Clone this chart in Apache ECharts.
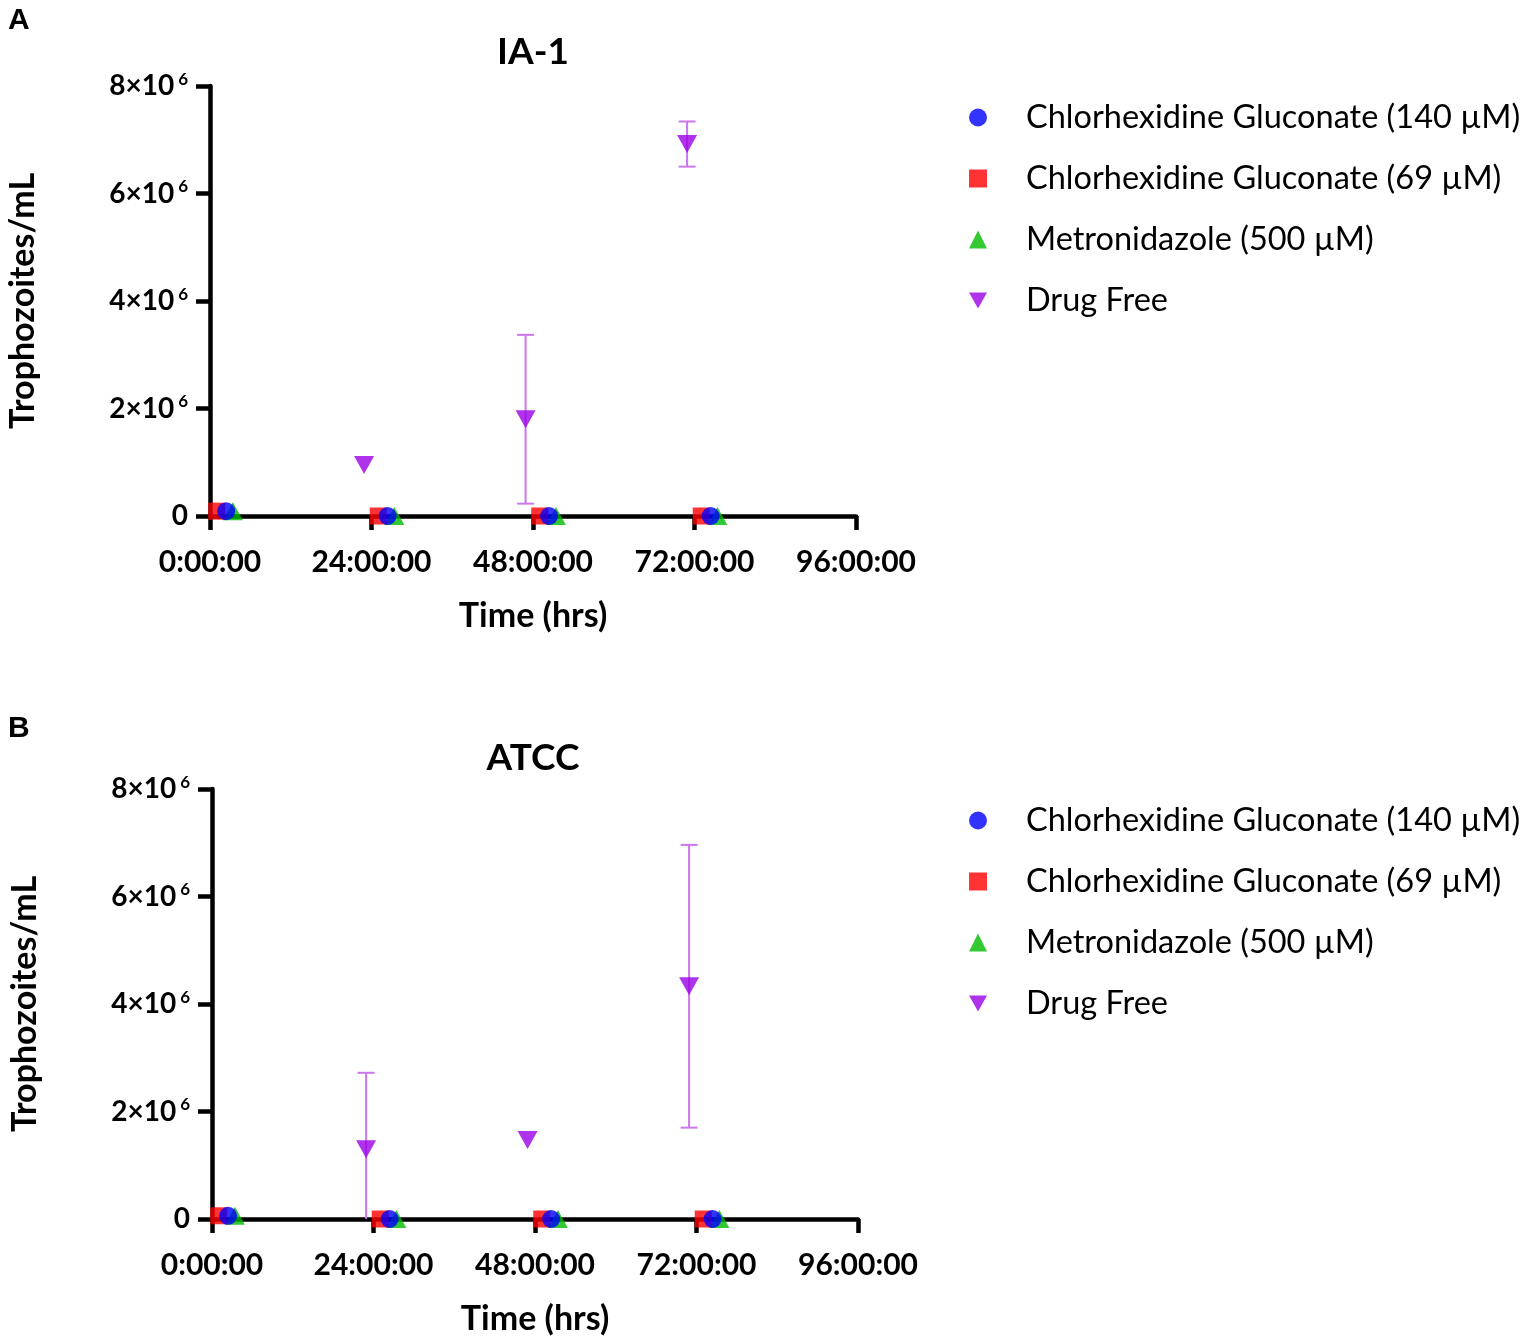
<!DOCTYPE html>
<html>
<head>
<meta charset="utf-8">
<title>Trophozoites over time</title>
<script src="https://cdn.jsdelivr.net/npm/echarts@6/dist/echarts.min.js"></script>
<style>
	html, body { margin: 0; padding: 0; background: #fff; }
	#chart { width: 1536px; height: 1343px; }
</style>
</head>
<body>
<div id="chart"></div>
<script>
// time points (hours) and x tick labels
const timePoints = [0, 24, 48, 72];
const timeTickLabels = ['0:00:00', '24:00:00', '48:00:00', '72:00:00', '96:00:00'];
const seriesNames = ['Chlorhexidine Gluconate (140 µM)', 'Chlorhexidine Gluconate (69 µM)', 'Metronidazole (500 µM)', 'Drug Free'];
const panelTitles = ['IA-1', 'ATCC'];

// panel A: IA-1 (trophozoites/mL)
const ia1Chx140 = [9e4, 0, 0, 0];
const ia1Chx69 = [9e4, 0, 0, 0];
const ia1Metro = [9e4, 0, 0, 0];
const ia1DrugFree = [null, 0.95e6, 1.8e6, 6.92e6];
const ia1DrugFreeSd = [0, 0, 1.57e6, 0.42e6];

// panel B: ATCC (trophozoites/mL)
const atccChx140 = [6e4, 0, 0, 0];
const atccChx69 = [6e4, 0, 0, 0];
const atccMetro = [6e4, 0, 0, 0];
const atccDrugFree = [null, 1.3e6, 1.47e6, 4.33e6];
const atccDrugFreeSd = [0, 1.42e6, 0, 2.63e6];

// small horizontal nudge (hours) so overlapping symbols stay visible
const nudge = { chx140: 2.4, chx69: 1.0, metro: 3.4, drugFree: -1.1 };

const FONT = 'Lato';
const colors = { chx140: '#0000ff', chx69: '#ff0000', metro: '#00bb00', drugFree: '#9b00e6', err: '#cc77ee' };
const downTriangle = 'path://M0,0L10,0L5,9Z';

function points(values, shift) {
	const out = [];
	timePoints.forEach((t, i) => {
		if (values[i] != null) out.push([t + shift, values[i]]);
	});
	return out;
}

function errorBars(idx, means, sds) {
	const data = [];
	timePoints.forEach((t, i) => {
		if (means[i] == null || !sds[i]) return;
		data.push([t + nudge.drugFree, means[i] - sds[i], means[i] + sds[i]]);
	});
	return {
		type: 'custom',
		xAxisIndex: idx,
		yAxisIndex: idx,
		silent: true,
		z: 1,
		encode: { x: 0, y: [1, 2] },
		data: data,
		renderItem: function (params, api) {
			const x = api.value(0);
			const lowRaw = api.value(1);
			const top = api.coord([x, api.value(2)]);
			const bottom = api.coord([x, Math.max(lowRaw, 0)]);
			const cap = 8.5;
			const style = { stroke: colors.err, lineWidth: 2 };
			const children = [
				{ type: 'line', shape: { x1: top[0], y1: top[1], x2: bottom[0], y2: bottom[1] }, style: style },
				{ type: 'line', shape: { x1: top[0] - cap, y1: top[1], x2: top[0] + cap, y2: top[1] }, style: style }
			];
			if (lowRaw > 0) {
				children.push({ type: 'line', shape: { x1: bottom[0] - cap, y1: bottom[1], x2: bottom[0] + cap, y2: bottom[1] }, style: style });
			}
			return { type: 'group', children: children };
		}
	};
}

function panelSeries(idx, chx140, chx69, metro, drugFree, drugFreeSd) {
	const base = { type: 'scatter', xAxisIndex: idx, yAxisIndex: idx, z: 2, silent: true };
	// drawing order: triangle, square, circle on top
	return [
		errorBars(idx, drugFree, drugFreeSd),
		Object.assign({}, base, { name: seriesNames[2], symbol: 'triangle', symbolSize: [20, 18], itemStyle: { color: colors.metro }, data: points(metro, nudge.metro) }),
		Object.assign({}, base, { name: seriesNames[1], symbol: 'rect', symbolSize: 17, itemStyle: { color: colors.chx69 }, data: points(chx69, nudge.chx69) }),
		Object.assign({}, base, { name: seriesNames[0], symbol: 'circle', symbolSize: 18, itemStyle: { color: colors.chx140 }, data: points(chx140, nudge.chx140) }),
		Object.assign({}, base, { name: seriesNames[3], symbol: downTriangle, symbolSize: [20, 18], itemStyle: { color: colors.drugFree }, data: points(drugFree, nudge.drugFree) })
	];
}

const grids = [
	{ left: 210, top: 86, width: 646, height: 430 },
	{ left: 212, top: 789, width: 646, height: 430 }
];

function xAxis(idx) {
	return {
		type: 'value', gridIndex: idx, min: 0, max: 96, interval: 24,
		name: 'Time (hrs)', nameLocation: 'middle', nameGap: 83,
		nameTextStyle: { fontFamily: FONT, fontWeight: 'bold', fontSize: 34, color: '#000' },
		splitLine: { show: false },
		axisLine: { lineStyle: { color: '#000', width: 4.5 } },
		axisTick: { length: 14, lineStyle: { color: '#000', width: 4.5 } },
		axisLabel: {
			margin: 31, fontFamily: FONT, fontWeight: 'bold', fontSize: 30, color: '#000',
			formatter: v => timeTickLabels[v / 24]
		}
	};
}

function yAxis(idx) {
	return {
		type: 'value', gridIndex: idx, min: 0, max: 8e6, interval: 2e6,
		name: 'Trophozoites/mL', nameLocation: 'middle', nameGap: 170,
		nameTextStyle: { fontFamily: FONT, fontWeight: 'bold', fontSize: 34, color: '#000' },
		splitLine: { show: false },
		axisLine: { lineStyle: { color: '#000', width: 4.5 } },
		axisTick: { length: 14, lineStyle: { color: '#000', width: 4.5 } },
		axisLabel: {
			margin: 22,
			formatter: v => v === 0 ? '{b|0}' : '{b|' + (v / 1e6) + '×10}{s|6}',
			rich: {
				b: { fontFamily: FONT, fontWeight: 'bold', fontSize: 28, lineHeight: 30, color: '#000' },
				s: { fontFamily: FONT, fontWeight: 'bold', fontSize: 17, lineHeight: 17, verticalAlign: 'top', color: '#000', padding: [0, 0, 0, 4] }
			}
		}
	};
}

function legend(top) {
	return {
		orient: 'vertical', left: 964, top: top,
		itemWidth: 18, itemHeight: 18, itemGap: 28,
		selectedMode: false,
		textStyle: { fontFamily: FONT, fontSize: 32.5, lineHeight: 32.5, color: '#000', padding: [0, 0, 0, 34] },
		data: [
			{ name: seriesNames[0], icon: 'circle' },
			{ name: seriesNames[1], icon: 'rect' },
			{ name: seriesNames[2], icon: 'triangle' },
			{ name: seriesNames[3], icon: downTriangle }
		]
	};
}

const chart = echarts.init(document.getElementById('chart'), null, { renderer: 'canvas' });

chart.setOption({
	backgroundColor: '#fff',
	animation: false,
	grid: grids.map(g => Object.assign({ outerBoundsMode: 'none' }, g)),
	xAxis: [xAxis(0), xAxis(1)],
	yAxis: [yAxis(0), yAxis(1)],
	legend: [legend(96), legend(799)],
	graphic: [
		{ type: 'text', left: 8, top: 6, style: { text: 'A', fontFamily: 'Liberation Sans', fontWeight: 'bold', fontSize: 30, fill: '#000' } },
		{ type: 'text', left: 8, top: 714, style: { text: 'B', fontFamily: 'Liberation Sans', fontWeight: 'bold', fontSize: 30, fill: '#000' } },
		{ type: 'text', x: 533, y: 52, style: { text: panelTitles[0], fontFamily: FONT, fontWeight: 'bold', fontSize: 37, fill: '#000', align: 'center', verticalAlign: 'middle' } },
		{ type: 'text', x: 533, y: 758, style: { text: panelTitles[1], fontFamily: FONT, fontWeight: 'bold', fontSize: 37, fill: '#000', align: 'center', verticalAlign: 'middle' } }
	],
	series: [].concat(
		panelSeries(0, ia1Chx140, ia1Chx69, ia1Metro, ia1DrugFree, ia1DrugFreeSd),
		panelSeries(1, atccChx140, atccChx69, atccMetro, atccDrugFree, atccDrugFreeSd)
	)
});

window.addEventListener('resize', function () {
	chart.resize();
});
</script>
</body>
</html>
